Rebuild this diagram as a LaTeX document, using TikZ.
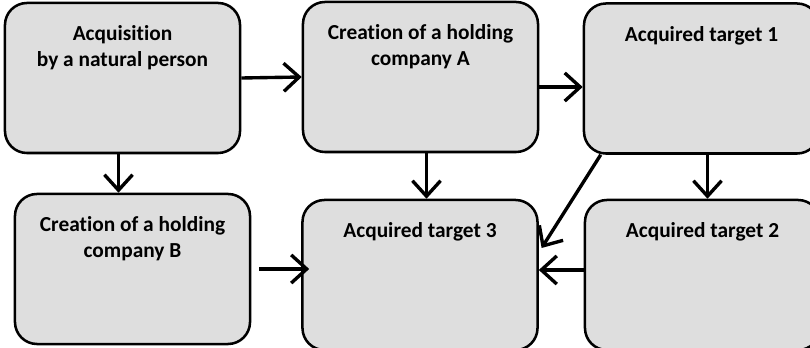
\documentclass[tikz,border=0pt]{standalone}
\usepackage{fontspec}
\setmainfont[Ligatures=NoCommon]{Carlito}
\usetikzlibrary{arrows.meta}

\definecolor{boxfill}{RGB}{222,222,222}
\tikzset{
    box/.style={draw, line width=1.8pt, rounded corners=0.55cm, fill=boxfill,
        minimum width=5.875cm, minimum height=3.75cm, inner sep=0pt,
        font=\bfseries\fontsize{15.2}{18}\selectfont},
    arr/.style={line width=2.4pt, -{Straight Barb[length=11pt, width=20pt, line width=2.4pt]}}
}
% text sits near the top edge of each box
\newcommand{\boxtext}[1]{\parbox[c][2.6cm][t]{5.6cm}{\centering #1}}

\begin{document}
\begin{tikzpicture}[x=0.025cm, y=0.025cm]
    \useasboundingbox (0, 0) rectangle (810, 348);
    % top row
    \node[box] (acq) at (122.5, 270) {\boxtext{Acquisition\\by a natural person}};
    \node[box] (holdA) at (420.5, 271) {\boxtext{Creation of a holding\\company A}};
    \node[box] (tgt1) at (701.5, 269.5) {\boxtext{Acquired target 1}};
    % bottom row
    \node[box] (holdB) at (132.5, 79) {\boxtext{Creation of a holding\\company B}};
    \node[box] (tgt3) at (420, 73) {\boxtext{Acquired target 3}};
    \node[box] (tgt2) at (702.5, 73) {\boxtext{Acquired target 2}};

    \draw[arr] (acq.east) -- (holdA.west);
    \draw[arr] ([yshift=-0.25cm]holdA.east) -- ([yshift=-0.25cm]holdA.east -| tgt1.west);
    \draw[arr] ([xshift=-0.1cm]acq.south) -- ([xshift=-0.1cm]acq.south |- holdB.north);
    \draw[arr] ([xshift=0.15cm]holdA.south) -- ([xshift=0.15cm]holdA.south |- tgt3.north);
    \draw[arr] ([xshift=0.15cm]tgt1.south) -- ([xshift=0.15cm]tgt1.south |- tgt2.north);
    \draw[arr] ([xshift=0.45cm]tgt1.south west) -- ([xshift=0.07cm, yshift=0.675cm]tgt3.east);
    \draw[arr] ([yshift=0.125cm]tgt2.west) -- ([yshift=0.125cm]tgt2.west -| tgt3.east);
    \draw[arr] ([xshift=0.2cm]holdB.east) -- ([xshift=0.2cm]holdB.east -| tgt3.west);
\end{tikzpicture}
\end{document}
